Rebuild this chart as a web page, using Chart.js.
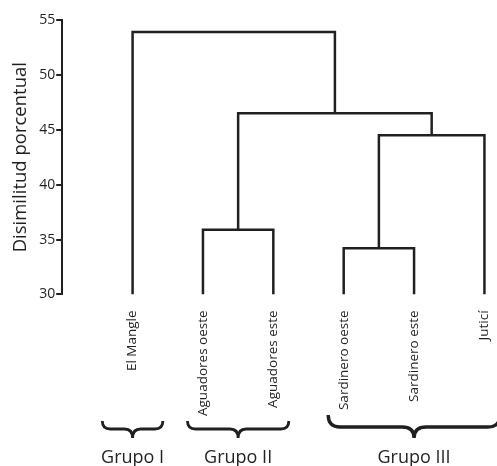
<!DOCTYPE html>
<html>
<head>
<meta charset="utf-8">
<script src="https://cdn.jsdelivr.net/npm/chart.js@4.4.1/dist/chart.umd.min.js"></script>
<style>
  html, body { margin: 0; padding: 0; background: #fff; }
  #wrap { width: 497px; height: 466px; }
</style>
</head>
<body>
<div id="wrap"><canvas id="dendro"></canvas></div>
<script>
// sitios (hojas del dendrograma), de izquierda a derecha
var leaves = ['El Mangle', 'Aguadores oeste', 'Aguadores este', 'Sardinero oeste', 'Sardinero este', 'Juticí'];

// uniones: nodo 6.. en adelante (estilo linkage)
var mergeA = [3, 1, 6, 7, 0];
var mergeB = [4, 2, 5, 8, 9];
var mergeHeight = [34.2, 35.9, 44.5, 46.5, 53.9];

var yTicks = [30, 35, 40, 45, 50, 55];

var groupNames = ['Grupo I', 'Grupo II', 'Grupo III'];
var groupFirst = [0, 1, 3];
var groupLast = [0, 2, 5];

var ink = '#231f20';
var base = yTicks[0];

// posicion x / altura de cada nodo
var nodeX = leaves.map(function (l, i) { return i; });
var nodeY = leaves.map(function () { return base; });
var datasets = [];
mergeHeight.forEach(function (h, k) {
  var a = mergeA[k], b = mergeB[k];
  nodeX.push((nodeX[a] + nodeX[b]) / 2);
  nodeY.push(h);
  datasets.push({
    data: [
      { x: nodeX[a], y: nodeY[a] },
      { x: nodeX[a], y: h },
      { x: nodeX[b], y: h },
      { x: nodeX[b], y: nodeY[b] }
    ],
    borderColor: ink,
    borderWidth: 2.5,
    pointRadius: 0,
    tension: 0,
    fill: false,
    borderJoinStyle: 'miter',
    borderCapStyle: 'butt'
  });
});

// llaves y nombres de grupo bajo las etiquetas
var braces = {
  id: 'braces',
  afterDraw: function (chart) {
    var c = chart.ctx, xs = chart.scales.x;
    var bot = 438;
    c.save();
    c.strokeStyle = ink;
    groupNames.forEach(function (name, g) {
      var n = groupLast[g] - groupFirst[g] + 1;
      var pad = n === 1 ? 0.43 : 0.22;
      var x1 = xs.getPixelForValue(groupFirst[g] - pad);
      var x2 = xs.getPixelForValue(groupLast[g] + pad);
      var xc = xs.getPixelForValue((groupFirst[g] + groupLast[g]) / 2);
      var big = n > 2;
      var top = big ? 415 : 421, mid = big ? 427 : 429, r = big ? 12 : 8;
      c.lineWidth = big ? 3.4 : 2.8;
      c.beginPath();
      c.moveTo(x1, top);
      c.quadraticCurveTo(x1, mid, x1 + r, mid);
      c.lineTo(xc - r, mid);
      c.quadraticCurveTo(xc, mid, xc, bot);
      c.quadraticCurveTo(xc, mid, xc + r, mid);
      c.lineTo(x2 - r, mid);
      c.quadraticCurveTo(x2, mid, x2, top);
      c.stroke();
      c.fillStyle = ink;
      c.font = '18px "Open Sans"';
      c.textAlign = 'center';
      c.textBaseline = 'alphabetic';
      c.fillText(name, xc, 463);
    });
    c.restore();
  }
};

new Chart(document.getElementById('dendro'), {
  type: 'line',
  data: { datasets: datasets },
  plugins: [braces],
  options: {
    responsive: true,
    maintainAspectRatio: false,
    animation: false,
    layout: { padding: { top: 20, right: 2, bottom: 42, left: 10 } },
    plugins: { legend: { display: false }, tooltip: { enabled: false } },
    scales: {
      x: {
        type: 'linear',
        min: -1,
        max: 5.15,
        afterBuildTicks: function (axis) {
          axis.ticks = leaves.map(function (l, i) { return { value: i }; });
        },
        afterFit: function (axis) {
          axis.paddingRight = 0;
          axis.paddingLeft = 0;
        },
        grid: { display: false },
        border: { display: false },
        ticks: {
          color: ink,
          font: { family: '"Open Sans"', size: 13.5 },
          minRotation: 90,
          maxRotation: 90,
          autoSkip: false,
          padding: 8,
          callback: function (v) { return leaves[v]; }
        }
      },
      y: {
        min: 30,
        max: 55,
        afterBuildTicks: function (axis) {
          axis.ticks = yTicks.map(function (v) { return { value: v }; });
        },
        grid: { drawOnChartArea: false, drawTicks: true, tickLength: 6, color: ink, lineWidth: 2 },
        border: { display: true, color: ink, width: 2 },
        ticks: { color: ink, font: { family: '"Open Sans"', size: 14 }, padding: 1 },
        title: {
          display: true,
          text: 'Disimilitud porcentual',
          color: ink,
          font: { family: '"Open Sans"', size: 18.5 },
          padding: { top: 0, bottom: 6 }
        }
      }
    }
  }
});
</script>
</body>
</html>
